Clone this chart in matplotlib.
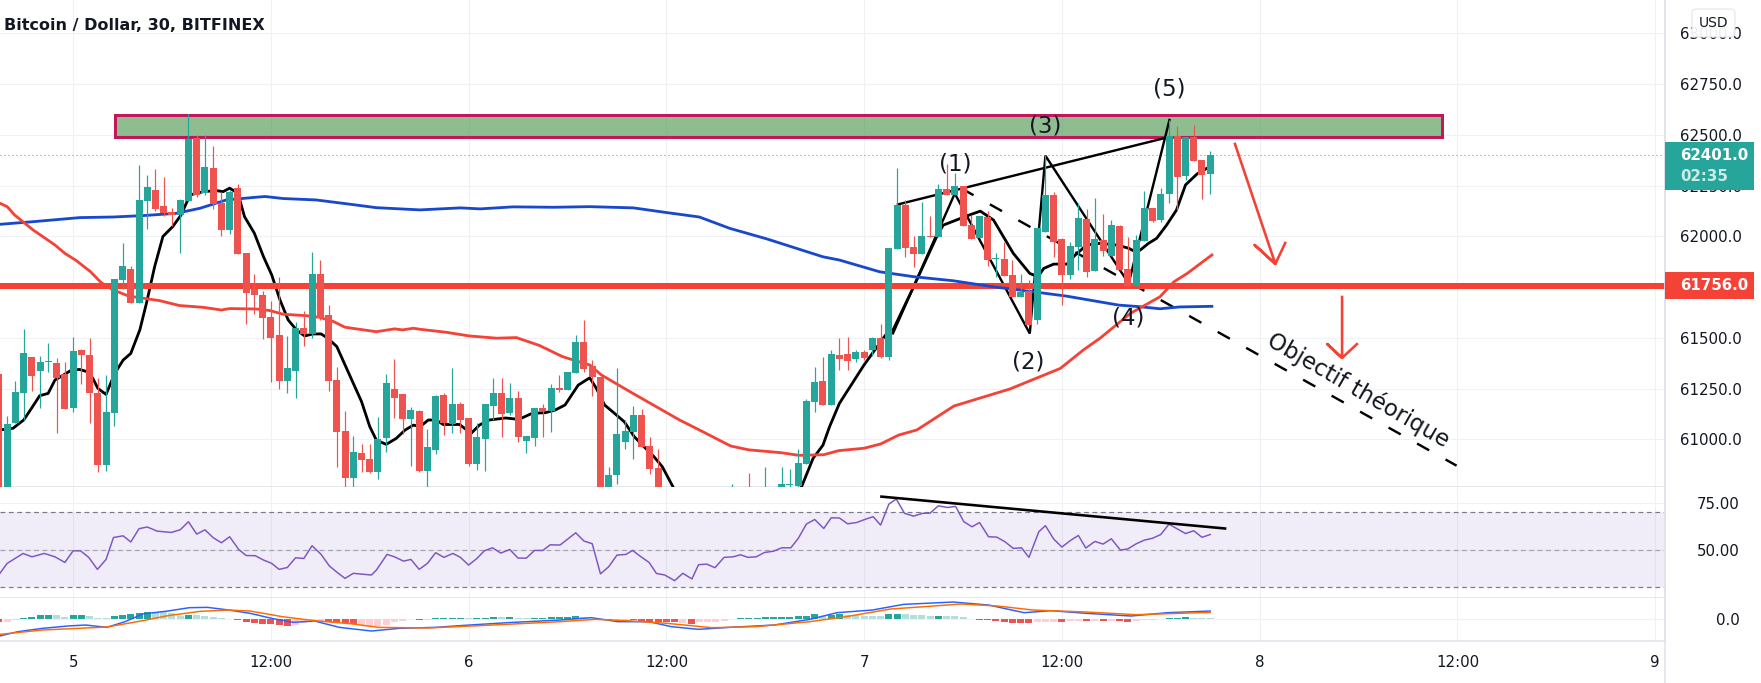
"""Bitcoin / Dollar 30 min chart with drawn wave count, RSI and MACD panes"""
import numpy as np
import matplotlib
matplotlib.use('Agg')
import matplotlib.pyplot as plt
from matplotlib.patches import Rectangle, FancyBboxPatch

W, H = 1761, 683
nan = np.nan

# candles, one per 30 min, bar 0 is the midnight of the 5th
bars = np.arange(-9, 139)
opens = [61322,60700,61081,61229,61406,61337,61383,61376,61322,
 61155,61440,61416,61229,60874,61130,61786,61840,61673,62175,
 62229,62151,62121,62106,62175,62485,62215,62338,62165,62032,
 62239,61919,61742,61712,61604,61515,61288,61338,61550,61520,
 61816,61614,61293,61041,60810,60933,60904,60840,61007,61248,
 61224,61101,61140,60844,60948,61219,61076,61174,61105,60879,
 61003,61165,61229,61130,61204,60992,61007,61155,61140,61253,
 61243,61327,61480,61362,61307,60650,60825,60987,61037,61120,
 60968,60859,nan,nan,nan,nan,nan,nan,nan,nan,
 60650,nan,60740,nan,60680,nan,60720,60775,60770,60879,
 61184,61288,61170,61416,61420,61395,61430,61440,61500,61405,
 61938,62155,61948,61913,62002,61997,62234,62204,62248,62056,
 61992,62096,61887,61889,61810,61701,61731,61588,62022,62204,
 61987,61810,61948,62086,61830,61983,61904,62051,61840,61756,
 61978,62140,62081,62209,62495,62298,62490,62377,62308]
highs = [61322,61115,61288,61545,61406,61411,61475,61401,61381,
 61505,61445,61500,61303,61317,61791,61967,61855,62352,62303,
 62333,62293,62141,62185,62604,62500,62500,62446,62220,62230,
 62259,61919,61816,61732,61683,61801,61510,61579,61633,61924,
 61885,61663,61357,61140,61017,60977,60977,61110,61322,61396,
 61224,61160,61145,61051,61219,61229,61352,61184,61105,61081,
 61174,61303,61303,61278,61239,61017,61155,61174,61273,61317,
 61332,61514,61589,61391,61307,60864,61352,61096,61165,61150,
 61012,60953,nan,nan,nan,nan,nan,nan,nan,nan,
 60780,nan,60835,nan,60864,nan,60864,60854,60953,61199,
 61357,61406,61440,61498,61506,61440,61440,61506,61567,61941,
 62335,62179,62002,62170,62100,62258,62357,62312,62248,62105,
 62101,62125,61918,61972,61884,61815,61785,62041,62401,62219,
 61992,61973,62163,62135,62190,62111,62081,62056,61997,62007,
 62224,62140,62239,62574,62544,62490,62549,62377,62421]
lows = [60600,60600,61081,61096,61238,61155,61332,61032,61150,
 61135,61273,61081,60840,60844,61066,61742,61673,61673,62037,
 62126,62101,62052,61919,62175,62195,62205,62136,62003,62013,
 61914,61569,61619,61495,61284,61249,61229,61205,61461,61500,
 61589,61239,60864,60766,60766,60840,60835,60805,60938,61106,
 61027,60869,60840,60766,60928,61022,61032,61032,60869,60849,
 60844,61096,61012,61120,60987,60933,60968,61012,61037,61234,
 61243,61327,61332,61214,60600,60600,60780,60953,60904,60963,
 60830,60650,nan,nan,nan,nan,nan,nan,nan,nan,
 60600,nan,60650,nan,60650,nan,60700,60760,60760,60879,
 61135,61170,61170,61340,61340,61380,61390,61410,61400,61390,
 61938,61900,61849,61913,61997,61997,62204,62204,62051,61987,
 61992,61854,61800,61805,61701,61701,61564,61568,62022,61900,
 61662,61790,61835,61800,61830,61904,61904,61835,61756,61756,
 61978,62071,62071,62165,62130,62278,62372,62185,62209]
closes = [60700,61076,61234,61426,61312,61381,61385,61303,61150,
 61436,61416,61229,60874,61135,61791,61855,61673,62180,62244,
 62136,62116,62106,62180,62481,62205,62343,62160,62032,62220,
 61914,61722,61712,61599,61500,61288,61352,61550,61520,61816,
 61599,61288,61037,60810,60938,60899,60840,61002,61278,61204,
 61101,61145,60844,60963,61214,61081,61174,61096,60879,61012,
 61174,61229,61125,61204,61012,61017,61155,61140,61253,61243,
 61332,61480,61347,61307,60700,60825,61027,61041,61120,60963,
 60854,60700,nan,nan,nan,nan,nan,nan,nan,nan,
 60700,nan,60700,nan,60730,nan,60780,60779,60884,61189,
 61283,61170,61421,61395,61385,61430,61400,61500,61405,61941,
 62155,61943,61913,62002,61997,62234,62204,62248,62051,61987,
 62101,61884,61889,61805,61701,61726,61564,62041,62204,61973,
 61810,61953,62091,61825,61987,61928,62056,61835,61756,61983,
 62140,62076,62209,62495,62293,62490,62372,62303,62401]

# moving averages, read as vertices along the bar scale
black_ma_k = [-8.9,-7.3,-6,-5.06,-4.05,-3.03,-2.2,-1.2,-0.2,0.8,1.7,2.4,3,4,5.06,6.07,7,8.1,8.9,9.9,
 10.9,12.1,13.1,14.2,15.8,17.4,18.2,19,20,20.8,22,23.1,24.1,25.1,26.1,27.1,28.1,29.1,30.1,30.9,
 32,34,35,36,36.8,38,39.2,40.3,41.3,42.1,43.1,44.1,44.9,46.9,48.3,49.3,50.5,52.5,54.1,55.7,
 57.3,58.5,59.7,61.3,62.7,63.5,64.5,65.7,66.9,68.1,69.3,70.5,71.5,72.8,73.8,87.4,88.4,89.8,91,91.8,
 93,96,98.7,99.5,102,104.8,105.6,108.7,110.1,111.7,114.1,116.1,117.1,117.8,119,120.6,121.6,123,124.6,126.7,
 128.1,128.9,129.5,130.5,131.5,132.7,133.9,135,136.4,137.6]
black_ma_v = [61047,61055,61096,61153,61216,61227,61293,61317,61342,61345,61334,61301,61252,61222,61326,61391,61424,61540,61671,61852,
 62000,62049,62106,62205,62221,62226,62221,62238,62213,62098,62016,61901,61811,61688,61589,61540,61510,61520,61520,61499,
 61458,61277,61187,61064,60997,60976,61005,61047,61071,61063,61096,61096,61074,61074,61030,61071,61096,61106,61099,61129,
 61132,61145,61170,61268,61304,61252,61170,61129,61087,61014,60964,60915,60866,60767,60669,60669,60767,60907,60972,61063,
 61178,61368,61520,61539,61752,61999,62056,62105,62125,62081,61917,61818,61802,61843,61864,61864,61908,61958,61966,61958,
 61942,61925,61933,61966,61991,62056,62130,62254,62308,62336]

red_ma_k = [-8.9,-8,-7.1,-4.85,-2.2,-1,0.4,2.1,3.4,4.85,6.7,8.5,10.5,12.9,15.8,18,19,22.2,23.9,25.5,
 28.3,29.9,31.6,33,36.8,39,40,41.3,42.1,45.3,48.1,51.4,53.8,56.6,59.4,62.7,64.1,67.9,73.6,76,
 79.8,82,85.9,88.1,91.1,92.9,96,98,100.2,102.4,106.9,113.7,119.8,122.6,124.6,128.3,131.9,133.6,135.2,138.2]
red_ma_v = [62164,62147,62106,62032,61958,61917,61881,61827,61773,61737,61707,61696,61684,61660,61651,61638,61645,61643,61635,61617,
 61610,61602,61581,61553,61531,61545,61540,61548,61543,61528,61510,61499,61502,61463,61408,61367,61318,61228,61096,61047,
 60968,60949,60935,60922,60925,60945,60957,60978,61022,61047,61165,61249,61350,61441,61498,61621,61703,61777,61818,61909]

blue_ma_k = [-8.9,-4.85,0.8,4.85,8.5,12.5,15.4,18.6,21.8,23.3,25.5,29.5,33.6,36.8,42.1,47,49.4,53.4,58.3,62.7,
 68,72,76,79.7,84.2,88.6,91,93,97.9,102,106.8,111.7,116.5,120.6,126.9,129.5,131.9,134.3,138.2]
blue_ma_v = [62060,62073,62093,62096,62103,62114,62139,62180,62192,62197,62187,62180,62159,62142,62131,62141,62136,62146,62144,62147,
 62141,62118,62096,62040,61988,61931,61900,61884,61826,61802,61782,61752,61728,61706,61662,61654,61644,61653,61656]

# RSI
rsi_k = [-8.9,-8,-6.07,-5,-3.5,-2.2,-1,0,0.9,1.9,2.95,4,4.9,6.07,7,8,9,10.2,11.9,13,
 14,15,16,17,18,19,20.1,21,22.1,23.1,24.1,25,26,27,28,29,30.1,31.1,32.1,33,
 34,36.2,36.8,38.1,39,40.1,41,42,43,44,45,46.1,47,48,49,49.9,50.9,51.9,53,54,
 55,56,57,57.9,59.1,61,62,63,64,65,66,67.1,67.9,68.8,69.9,70.8,71.8,73,74,75.1,
 75.9,76.9,77.9,79,80.1,81,81.9,82.9,83.9,85,86,87.1,88,89,90,91.1,92,93,94,95.1,
 96.2,97.1,98,99,99.9,100.9,102,103.1,104,105,106.1,107.1,108.1,109.1,110,111.1,112.1,113.1,114.1,115.1,
 116,117.2,118,119,120,121,122,122.9,124,125,126,127.1,128,129,130,131,132,133,134,135,
 136,137,138]
rsi_v = [37.2,42.6,47.9,46.1,47.9,46.1,43.1,49.3,49.3,45.8,39.4,44.7,56.4,57.3,54,61.1,62,59.8,59.1,60.5,
 64.8,58.2,60.5,56.3,53.6,56.8,50,46.8,46.7,44.4,42.6,39.4,40.4,45.6,45.2,52,47.4,41.2,37.6,34.6,
 37.3,36.4,39,47.4,46.1,43.8,44.7,39.4,42.6,48.3,45.8,47.9,45.8,41.7,45.2,49.3,50.9,48.1,50,45.4,
 45.4,49.5,49.5,52.5,52.4,58.9,54.5,53.1,37,40.8,47,47.4,49.5,46.5,43.1,37.2,36.4,33.4,37.3,34.3,
 41.9,42.2,40.3,45.8,46.1,47.2,45.8,46.1,48.4,49.1,50.9,50.9,55.9,63.6,66,61.2,66.9,66.8,63.7,64.4,
 66.2,67.5,63,74.2,76.9,69.3,67.8,69.3,69.4,73.3,72.4,73,64.8,62.1,64.4,56.8,56.6,54.1,50.6,50.9,
 45.8,59.5,62.7,55.6,51.3,54.7,57.5,50.8,54.3,52.9,55.7,49.7,50.3,53,55,56,58,63.5,61,58.5,
 60,56.5,58]

# MACD lines
macd_k = [-8.9,-6.7,-3.7,-0.65,1.5,4.1,6.3,8.45,11.5,14.1,16.3,18.9,21.5,24.1,26.7,29.3,32.3,36.2,39.6,44,
 47.5,52.7,59.1,62.9,66.1,69.9,72.6,75.9,79.7,85.1,89.4,92.7,97,100.8,106.8,111.1,115.4,118.7,123,128.4,
 132.8,138]
macd_v = [-250,-185,-135,-100,-85,-120,-35,80,125,175,180,140,90,15,-45,-25,-120,-175,-135,-120,
 -90,-50,-10,25,-35,-35,-110,-150,-120,-85,0,100,140,225,260,215,100,130,90,50,
 100,125]
signal_k = [-8.9,-3.7,4.1,8.45,11.5,15.4,18.9,21.5,25.4,29.3,33.6,37.1,43.1,51.8,59.1,63.4,67.2,72.1,77.5,82.9,
 89.4,93.8,99.2,107.8,112.2,116.5,123,129,138]
signal_v = [-225,-160,-115,-20,55,120,140,125,40,-20,-65,-120,-130,-80,-35,0,-20,-60,-125,-110,
 -35,40,155,230,200,140,110,70,105]

# MACD histogram, hist_pale marks the faded bars
hist_vals = [-40,-40,-5,25,35,60,60,60,40,
 60,60,50,20,20,50,60,80,100,105,
 110,120,90,50,60,60,55,30,15,5,
 -10,-40,-50,-65,-70,-80,-100,-80,-60,-30,
 -20,-45,-55,-60,-70,-90,-100,-95,-80,-40,
 -20,5,-5,-5,20,20,20,20,20,20,
 20,35,35,35,20,20,20,20,35,30,
 35,45,40,5,-5,-10,-5,-5,-5,-30,
 -35,-35,-40,-40,-55,-70,-40,-35,-35,-20,
 5,20,15,15,30,30,30,30,45,55,
 75,50,60,85,70,60,50,55,45,75,
 80,80,65,60,50,50,50,45,35,5,
 -5,-15,-20,-40,-60,-60,-60,-45,-35,-35,
 -35,-30,-20,-30,-25,-20,-20,-25,-35,-30,
 -15,-5,5,20,20,35,25,20,20]
hist_pale = [0,1,1,0,0,0,0,1,1,
 0,0,1,1,1,0,0,0,0,0,
 1,1,1,1,0,1,1,1,1,1,
 0,0,0,0,0,0,0,1,1,1,
 1,0,0,0,0,1,1,1,1,1,
 1,0,0,1,0,0,0,0,1,0,
 0,0,1,0,1,1,0,0,0,0,
 0,0,1,1,1,0,1,1,0,0,
 0,0,0,0,1,0,1,1,1,1,
 0,0,0,0,0,0,0,0,0,0,
 0,1,0,0,1,1,1,1,1,0,
 0,1,1,1,1,0,1,1,1,1,
 0,0,0,0,0,0,0,1,1,1,
 0,1,1,0,1,0,1,0,0,1,
 1,1,0,0,0,0,1,1,1]

# drawn on the chart
wave_k = [99.5,107,116.1,118,128.1,133.05]
wave_v = [61523,62212,61522,62398,61769,62574]
wave_top_k = [100.1,132.3]
wave_top_v = [62158,62483]
target_k = [107.8,167.9]
target_v = [62237,60871]
zone_k = [5.08,166.07]
zone_v = [62490,62598]
arrow1_k = [141,145.9,143.4,145.9,147.1]
arrow1_v = [62456,61865,61958,61865,61968]
arrow2_k = [154,154,152.2,154,155.8]
arrow2_v = [61702,61402,61470,61402,61470]
rsi_trend_k = [98.1,139.8]
rsi_trend_v = [78.2,61.2]
wave_labels = ['(1)','(2)','(3)','(4)','(5)']
wave_label_k = [107,115.9,118,128,133]
wave_label_v = [62357,61381,62546,61598,62727]

level_price = 61756
last_price = 62401
price_ticks = [63000,62750,62500,62250,62000,61750,61500,61250,61000]
time_ticks = [0,24,48,72,96,120,144,168,192]
time_labels = ['5','12:00','6','12:00','7','12:00','8','12:00','9']

UP, DOWN = '#26a69a', '#ef5350'
UP_PALE, DOWN_PALE = '#b2dfdb', '#ffcdd2'
RED = '#f44336'
GRID = '#f0f1f5'
BORDER = '#e0e3eb'
INK = '#131722'
px = 0.72  # one pixel in points at dpi 100


def pane(top, bottom, right=1665):
    return [0, 1 - bottom / H, right / W, (bottom - top) / H]


fig = plt.figure(figsize=(W / 100, H / 100), dpi=100)
ax = fig.add_axes(pane(0, 487))
ax_rsi = fig.add_axes(pane(487, 597.7), sharex=ax)
ax_macd = fig.add_axes(pane(597.7, 641), sharex=ax)

ax.set_xlim(-8.871, 193.19)
ax.set_ylim(60766, 63165)
ax_rsi.set_ylim(24.3, 83.33)
ax_macd.set_ylim(-325, 325)

for a in (ax, ax_rsi, ax_macd):
    a.set_axisbelow(True)
    a.grid(True, color=GRID, lw=1.1 * px)
    a.set_xticks(time_ticks)
    a.yaxis.tick_right()
    a.tick_params(axis='both', length=0, labelsize=10.8, labelcolor=INK)
    for s in ('top', 'left'):
        a.spines[s].set_visible(False)
    for s in ('bottom', 'right'):
        a.spines[s].set_color(BORDER)
        a.spines[s].set_linewidth(1.6 * px)

ax.tick_params(axis='y', pad=55.5)
ax_rsi.tick_params(axis='y', pad=53.5)
ax_macd.tick_params(axis='y', pad=53.5)
ax.set_yticks(price_ticks)
ax.set_yticklabels([f'{p:.1f}' for p in price_ticks], ha='right')
ax_rsi.set_yticks([75, 50])
ax_rsi.set_yticklabels(['75.00', '50.00'], ha='right')
ax_macd.set_yticks([0])
ax_macd.set_yticklabels(['0.0'], ha='right')
ax.tick_params(axis='x', labelbottom=False)
ax_rsi.tick_params(axis='x', labelbottom=False)
ax_macd.set_xticklabels(time_labels)
ax_macd.tick_params(axis='x', pad=10)

# drawings and indicators, candles stay on top of them
ax.add_patch(Rectangle((zone_k[0], zone_v[0]), zone_k[1] - zone_k[0], zone_v[1] - zone_v[0],
                       facecolor=(0.22, 0.557, 0.235, 0.57), edgecolor='#c2185b',
                       lw=3 * px, zorder=2))
ax.axhline(last_price, color=UP, lw=1 * px, ls=(0, (1, 3)), zorder=2)
ax.plot(wave_k, wave_v, color='black', lw=2.4 * px, zorder=3, solid_joinstyle='miter')
ax.plot(wave_top_k, wave_top_v, color='black', lw=2.4 * px, zorder=3)
ax.plot(target_k, target_v, color='black', lw=2.4 * px, ls=(0, (5.8, 7.8)), zorder=3)
ax.plot(black_ma_k, black_ma_v, color='black', lw=2.8 * px, zorder=3)
ax.axhline(level_price, color=RED, lw=6 * px, zorder=4)
ax.plot(blue_ma_k, blue_ma_v, color='#1848cc', lw=2.8 * px, zorder=5)
ax.plot(red_ma_k, red_ma_v, color=RED, lw=2.8 * px, zorder=5)
ax.plot(arrow1_k, arrow1_v, color=RED, lw=2.6 * px, zorder=5)
ax.plot(arrow2_k, arrow2_v, color=RED, lw=2.6 * px, zorder=5)

colors = [UP if c >= o else DOWN for o, c in zip(opens, closes)]
ax.vlines(bars, lows, highs, colors=colors, lw=1.2 * px, zorder=6)
body_low = np.minimum(opens, closes)
body_h = np.maximum(np.abs(np.array(closes) - np.array(opens)), 5)
ax.bar(bars, body_h, bottom=body_low, width=0.85, color=colors, linewidth=0, zorder=7)

for label, k, v in zip(wave_labels, wave_label_k, wave_label_v):
    ax.text(k, v, label, fontsize=16.5, color=INK, ha='center', va='center', zorder=8)
ax.text(155.95, 61241, 'Objectif théorique', fontsize=16.5, color=INK, rotation=-30,
        rotation_mode='anchor', ha='center', va='center', zorder=8)

# RSI pane
ax_rsi.axhspan(30, 70, color='#7e57c2', alpha=0.1, lw=0, zorder=1)
ax_rsi.axhline(70, color='#787b86', lw=1.2 * px, ls=(0, (4, 3)), zorder=2)
ax_rsi.axhline(50, color='#787b86', lw=1.2 * px, ls=(0, (4, 3)), alpha=0.6, zorder=2)
ax_rsi.axhline(30, color='#787b86', lw=1.2 * px, ls=(0, (4, 3)), zorder=2)
ax_rsi.plot(rsi_k, rsi_v, color='#7e57c2', lw=1.5 * px, zorder=3)
ax_rsi.plot(rsi_trend_k, rsi_trend_v, color='black', lw=2.6 * px, zorder=4)

# MACD pane
hist_colors = []
for v, pale in zip(hist_vals, hist_pale):
    if v >= 0:
        hist_colors.append(UP_PALE if pale else UP)
    else:
        hist_colors.append(DOWN_PALE if pale else DOWN)
ax_macd.bar(bars, hist_vals, width=0.85, color=hist_colors, linewidth=0, zorder=2)
ax_macd.plot(macd_k, macd_v, color='#2962ff', lw=1.5 * px, zorder=3)
ax_macd.plot(signal_k, signal_v, color='#ff6d00', lw=1.5 * px, zorder=4)


def fx(x):
    return x / W


def fy(y):
    return 1 - y / H


# right hand scale, tags and title
fig.add_artist(plt.Line2D([fx(1665), fx(1665)], [0, 1], color=BORDER, lw=1.6 * px, zorder=1))
fig.add_artist(Rectangle((fx(1665), fy(190)), fx(89), 48.3 / H, facecolor=UP, lw=0, zorder=2))
fig.add_artist(Rectangle((fx(1665), fy(299)), fx(89), 27.3 / H, facecolor=RED, lw=0, zorder=2))
fig.text(fx(1680.5), fy(155.5), f'{last_price:.1f}', color='white', fontsize=10.8, weight='bold',
         ha='left', va='center', zorder=3)
fig.text(fx(1680.5), fy(176.5), '02:35', color='#cdeae6', fontsize=10.8, weight='bold',
         ha='left', va='center', zorder=3)
fig.text(fx(1680.5), fy(285.5), f'{level_price:.1f}', color='white', fontsize=10.8, weight='bold',
         ha='left', va='center', zorder=3)
fig.add_artist(FancyBboxPatch((1692, H - 37), 43, 28, boxstyle='round,pad=0,rounding_size=4',
                              transform=None, facecolor=(1, 1, 1, 0.92), edgecolor=BORDER,
                              lw=1 * px, zorder=2))
fig.text(fx(1713.5), fy(23), 'USD', color=INK, fontsize=10, ha='center', va='center', zorder=3)
fig.text(fx(4), fy(25.5), 'Bitcoin / Dollar, 30, BITFINEX', color=INK, fontsize=11.5, weight='bold',
         ha='left', va='center', zorder=3)

fig.savefig('out.png', dpi=100, facecolor='white')
